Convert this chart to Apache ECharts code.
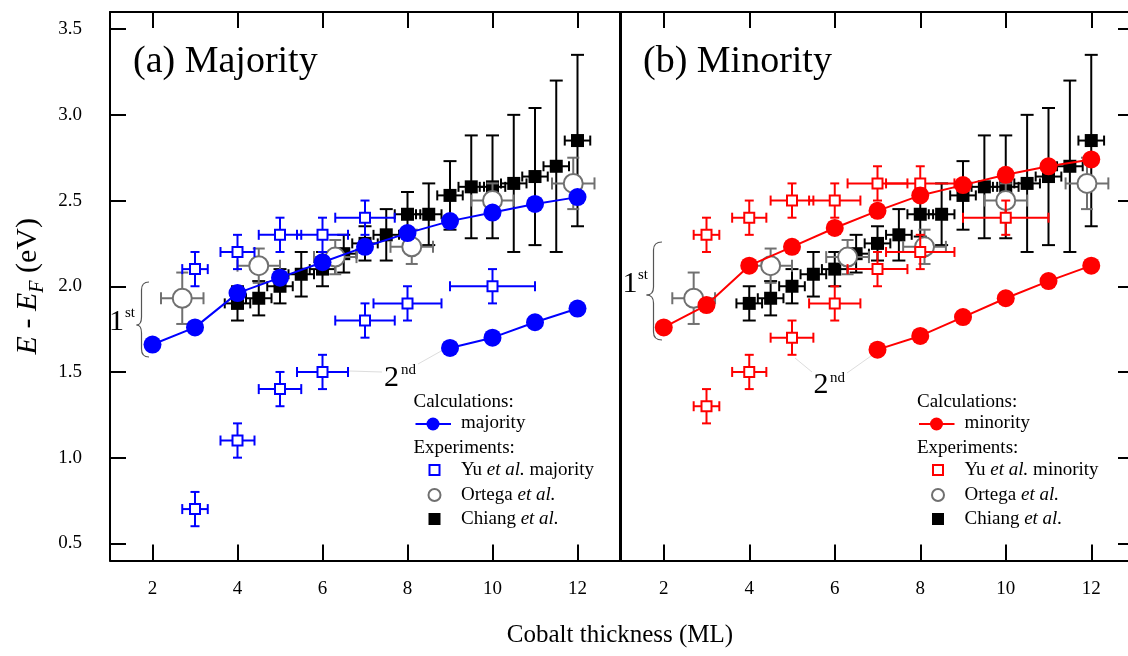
<!DOCTYPE html>
<html><head><meta charset="utf-8">
<script src="https://cdn.jsdelivr.net/npm/echarts@6/dist/echarts.min.js"></script>
<style>html,body{margin:0;padding:0;background:#fff}#c{width:1128px;height:656px}</style>
</head><body><div id="c"></div>
<script>
// ---------- data ----------
const xTicks = [2, 4, 6, 8, 10, 12];
const yTicks = [0.5, 1.0, 1.5, 2.0, 2.5, 3.0, 3.5];

// Calculations: 1st and 2nd features
const majCalc1 = [[2,1.66],[3,1.76],[4,1.96],[5,2.05],[6,2.14],[7,2.23],[8,2.31],[9,2.38],[10,2.43],[11,2.48],[12,2.52]];
const majCalc2 = [[9,1.64],[10,1.70],[11,1.79],[12,1.87]];
const minCalc1 = [[2,1.76],[3,1.89],[4,2.12],[5,2.23],[6,2.34],[7,2.44],[8,2.53],[9,2.59],[10,2.65],[11,2.70],[12,2.74]];
const minCalc2 = [[7,1.63],[8,1.71],[9,1.82],[10,1.93],[11,2.03],[12,2.12]];

// Experiments: [x, y, xErr, yErr]
const yuMaj = [[3,2.1,0.3,0.1],[4,2.2,0.4,0.1],[5,2.3,0.5,0.1],[6,2.3,0.6,0.1],[7,2.4,0.7,0.1],
               [3,0.7,0.3,0.1],[4,1.1,0.4,0.1],[5,1.4,0.5,0.1],[6,1.5,0.6,0.1],[7,1.8,0.7,0.1],[8,1.9,0.8,0.1],[10,2.0,1.0,0.1]];
const yuMin = [[3,2.3,0.3,0.1],[4,2.4,0.4,0.1],[5,2.5,0.5,0.1],[6,2.5,0.6,0.1],[7,2.6,0.7,0.1],[8,2.6,0.8,0.1],[10,2.4,1.0,0.1],
               [3,1.3,0.3,0.1],[4,1.5,0.4,0.1],[5,1.7,0.5,0.1],[6,1.9,0.6,0.1],[7,2.1,0.7,0.1],[8,2.2,0.8,0.1]];
const ortega = [[2.7,1.93,0.5,0.15],[4.5,2.12,0.5,0.1],[6.3,2.17,0.5,0.1],[8.1,2.23,0.5,0.1],[10,2.5,0.5,0.1],[11.9,2.6,0.5,0.15]];
const chiang = [[4,1.90,0.3,0.1],[4.5,1.93,0.3,0.1],[5,2.00,0.3,0.1],[5.5,2.07,0.3,0.13],[6,2.10,0.3,0.1],[6.5,2.19,0.3,0.11],
                [7,2.25,0.3,0.1],[7.5,2.30,0.3,0.15],[8,2.42,0.3,0.13],[8.5,2.42,0.3,0.18],[9,2.53,0.3,0.2],[9.5,2.58,0.3,0.3],
                [10,2.58,0.3,0.3],[10.5,2.60,0.3,0.4],[11,2.64,0.3,0.4],[11.5,2.70,0.3,0.5],[12,2.85,0.3,0.5]];

// ---------- style ----------
const FONT = '"Liberation Serif", "Times New Roman", serif';
const BLUE = '#0000ff', RED = '#ff0000', GRAY = '#707070', BLACK = '#000000';

function errRender(color, capY, capX) {
  return function (params, api) {
    const x = api.value(0), y = api.value(1), ex = api.value(2), ey = api.value(3);
    const c = api.coord([x, y]);
    const l = api.coord([x - ex, y]), r = api.coord([x + ex, y]);
    const t = api.coord([x, y + ey]), b = api.coord([x, y - ey]);
    const st = {stroke: color, lineWidth: 2};
    const ln = (x1, y1, x2, y2) => ({type: 'line', shape: {x1, y1, x2, y2}, style: st});
    return {type: 'group', children: [
      ln(l[0], c[1], r[0], c[1]),
      ln(l[0], c[1] - capX, l[0], c[1] + capX),
      ln(r[0], c[1] - capX, r[0], c[1] + capX),
      ln(c[0], t[1], c[0], b[1]),
      ln(c[0] - capY, t[1], c[0] + capY, t[1]),
      ln(c[0] - capY, b[1], c[0] + capY, b[1])
    ]};
  };
}

function xAx(grid, pos, labels) {
  return {type: 'value', gridIndex: grid, position: pos, min: 1, max: 13,
    axisLine: {show: true, onZero: false, lineStyle: {color: BLACK, width: 2}},
    axisTick: {show: true, inside: true, length: 16, lineStyle: {color: BLACK, width: 2}, customValues: xTicks},
    axisLabel: {show: labels, customValues: xTicks, color: BLACK, fontFamily: FONT, fontSize: 19, margin: 19},
    splitLine: {show: false}};
}
function yAx(grid, pos, ticks, labels) {
  return {type: 'value', gridIndex: grid, position: pos, min: 0.4, max: 3.6,
    axisLine: {show: true, onZero: false, lineStyle: {color: BLACK, width: 2}},
    axisTick: {show: ticks, inside: true, length: 16, lineStyle: {color: BLACK, width: 2}, customValues: yTicks},
    axisLabel: {show: labels, customValues: yTicks, formatter: v => v.toFixed(1), margin: 28, color: BLACK, fontFamily: FONT, fontSize: 19},
    splitLine: {show: false}};
}

function panel(gi, yu, color, calc1, calc2) {
  const ax = {xAxisIndex: gi * 2, yAxisIndex: gi * 2, silent: true};
  const pts = d => d.map(r => [r[0], r[1]]);
  const lineS = data => Object.assign({type: 'line', data, symbol: 'circle', symbolSize: 18, showSymbol: true,
    lineStyle: {color, width: 2}, itemStyle: {color, opacity: 1}, z: 8}, ax);
  return [
    Object.assign({type: 'custom', renderItem: errRender(BLACK, 6.5, 5), data: chiang, encode: {x: 0, y: 1}, z: 2}, ax),
    Object.assign({type: 'scatter', data: pts(chiang), symbol: 'rect', symbolSize: 13, itemStyle: {color: BLACK, opacity: 1}, z: 3}, ax),
    Object.assign({type: 'custom', renderItem: errRender(GRAY, 6, 6), data: ortega, encode: {x: 0, y: 1}, z: 4}, ax),
    Object.assign({type: 'scatter', data: pts(ortega), symbol: 'circle', symbolSize: 19,
      itemStyle: {color: '#ffffff', borderColor: GRAY, borderWidth: 2, opacity: 1}, z: 5}, ax),
    Object.assign({type: 'custom', renderItem: errRender(color, 4.5, 5), data: yu, encode: {x: 0, y: 1}, z: 6}, ax),
    Object.assign({type: 'scatter', data: pts(yu), symbol: 'rect', symbolSize: 10,
      itemStyle: {color: '#ffffff', borderColor: color, borderWidth: 2, opacity: 1}, z: 7}, ax),
    lineS(calc1), lineS(calc2)
  ];
}

// ---------- annotations (pixel layout) ----------
function txt(x, y, text, size, opts) {
  return Object.assign({type: 'text', x, y, z: 20, silent: true,
    style: Object.assign({text, fontSize: size, fontFamily: FONT, fill: BLACK, verticalAlign: 'middle', align: 'left',
      rich: {i: {fontStyle: 'italic', fontSize: size, fontFamily: FONT}}}, opts || {})});
}
function brace(xe, xm, xt, yt, ytip, yb) {
  const r = 8, st = {stroke: '#555', fill: null, lineWidth: 1.2};
  const q = (x1, y1, cpx1, cpy1, x2, y2) => ({type: 'bezierCurve', z: 20, silent: true, shape: {x1, y1, cpx1, cpy1, x2, y2}, style: st});
  const l = (x1, y1, x2, y2) => ({type: 'line', z: 20, silent: true, shape: {x1, y1, x2, y2}, style: st});
  return [
    q(xe, yt, xm, yt, xm, yt + r), l(xm, yt + r, xm, ytip - r), q(xm, ytip - r, xm, ytip, xt, ytip),
    q(xt, ytip, xm, ytip, xm, ytip + r), l(xm, ytip + r, xm, yb - r), q(xm, yb - r, xm, yb, xe, yb)
  ];
}
function seg(x1, y1, x2, y2) {
  return {type: 'line', z: 1, silent: true, shape: {x1, y1, x2, y2}, style: {stroke: '#dddddd', lineWidth: 1}};
}
function legend(x0, color, calcName, yuName) {
  const lx = x0 + 2, mx = x0 + 21, tx = x0 + 47.5;
  return [
    txt(x0, 402, 'Calculations:', 19),
    {type: 'line', z: 20, shape: {x1: lx, y1: 424, x2: lx + 35.5, y2: 424}, style: {stroke: color, lineWidth: 2}},
    {type: 'circle', z: 21, shape: {cx: x0 + 19.5, cy: 424, r: 6.5}, style: {fill: color}},
    txt(tx, 423, calcName, 19),
    txt(x0, 448.5, 'Experiments:', 19),
    {type: 'rect', z: 21, shape: {x: mx - 5, y: 470 - 5, width: 10, height: 10}, style: {fill: '#fff', stroke: color, lineWidth: 2}},
    txt(tx, 470, yuName, 19),
    {type: 'circle', z: 21, shape: {cx: mx, cy: 495, r: 6}, style: {fill: '#fff', stroke: GRAY, lineWidth: 2}},
    txt(tx, 495, 'Ortega {i|et al.}', 19),
    {type: 'rect', z: 21, shape: {x: mx - 6, y: 519 - 6, width: 12, height: 12}, style: {fill: BLACK}},
    txt(tx, 519, 'Chiang {i|et al.}', 19)
  ];
}

const graphics = [].concat(
  [txt(133, 62, '(a) Majority', 38), txt(643, 62, '(b) Minority', 38)],
  brace(149, 141.5, 136.5, 282, 325, 357), [txt(116.5, 322, '1', 30, {align: 'center'}), txt(125, 313, 'st', 15)],
  brace(662, 653.5, 646.5, 242, 295, 340), [txt(630, 284, '1', 30, {align: 'center'}), txt(638, 275, 'st', 15)],
  [seg(349, 371, 382, 372), seg(418, 364, 443, 350), txt(391.5, 378.5, '2', 30, {align: 'center'}), txt(401, 370, 'nd', 15)],
  [seg(795, 358, 812, 372), seg(847, 373, 871, 356), txt(821, 385.5, '2', 30, {align: 'center'}), txt(830, 378, 'nd', 15)],
  legend(413.5, BLUE, 'majority', 'Yu {i|et al.} majority'),
  legend(917, RED, 'minority', 'Yu {i|et al.} minority'),
  [txt(620, 635, 'Cobalt thickness (ML)', 25, {align: 'center'})]
);

const yLeft = yAx(0, 'left', true, true);
Object.assign(yLeft, {
  name: '{i|E} - {i|E}{s|F} (eV)', nameLocation: 'middle', nameGap: 62, nameRotate: 90,
  nameTextStyle: {fontFamily: FONT, fontSize: 30, color: BLACK, lineHeight: 40,
    rich: {i: {fontStyle: 'italic', fontFamily: FONT, fontSize: 30, lineHeight: 40},
           s: {fontStyle: 'italic', fontFamily: FONT, fontSize: 20, lineHeight: 20, verticalAlign: 'bottom'}}}
});

const option = {
  animation: false,
  backgroundColor: '#ffffff',
  grid: [
    {left: 110, top: 12, width: 510, height: 548.5, outerBoundsMode: 'none', containLabel: false},
    {left: 621, top: 12, width: 513, height: 548.5, outerBoundsMode: 'none', containLabel: false}
  ],
  xAxis: [xAx(0, 'bottom', true), xAx(0, 'top', false), xAx(1, 'bottom', true), xAx(1, 'top', false)],
  yAxis: [yLeft, yAx(0, 'right', false, false), yAx(1, 'left', false, false), yAx(1, 'right', true, false)],
  series: [].concat(panel(0, yuMaj, BLUE, majCalc1, majCalc2), panel(1, yuMin, RED, minCalc1, minCalc2)),
  graphic: graphics
};

const chart = echarts.init(document.getElementById('c'), null, {renderer: 'canvas'});
chart.setOption(option);
</script>
</body></html>
